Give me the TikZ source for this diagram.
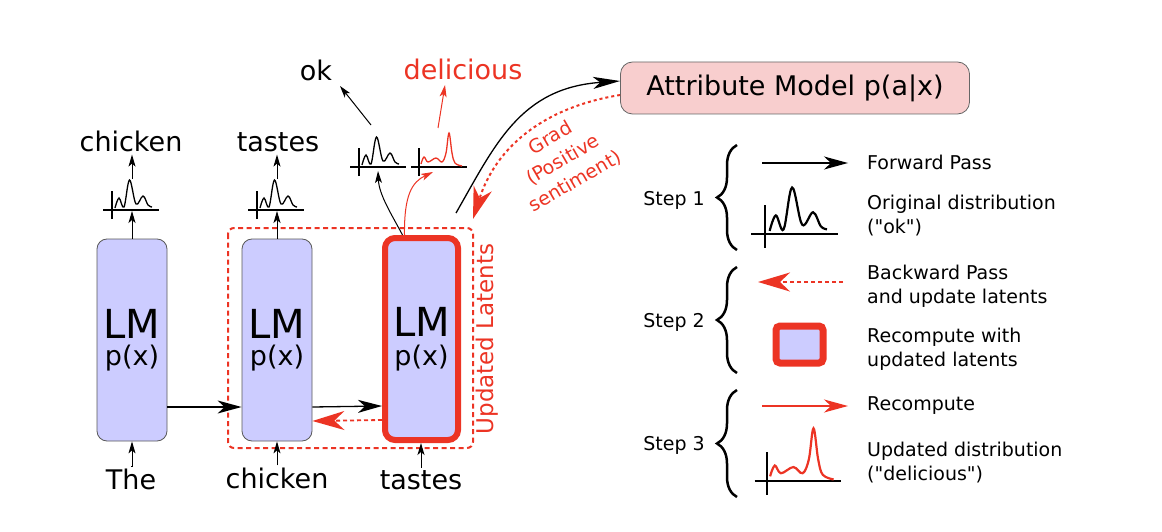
\documentclass[tikz,border=0pt]{standalone}
\usepackage{fontspec}
\setmainfont{DejaVu Sans}[Ligatures=TeXOff]
\usetikzlibrary{arrows.meta,decorations.pathreplacing}
\definecolor{lmfill}{RGB}{204,204,255}
\definecolor{attrfill}{RGB}{248,206,206}
\definecolor{gradred}{RGB}{236,52,36}
\newcommand\fsz[2]{\fontsize{#1}{#2}\selectfont}
\tikzset{
  lmbox/.style={draw=black!65,fill=lmfill,rounded corners=10pt,line width=.8pt,
    minimum width=70pt,minimum height=202pt,align=center,inner sep=0pt},
  hotbox/.style={lmbox,draw=gradred,line width=6pt},
  attrbox/.style={draw=black!60,fill=attrfill,rounded corners=12pt,line width=.8pt,
    minimum width=349pt,minimum height=52pt,font=\fsz{27}{32}},
  word/.style={font=\fsz{27}{32},inner sep=2pt,anchor=base},
  legtext/.style={font=\fsz{19}{24},align=left,anchor=west,inner sep=0pt},
  stepfont/.style={font=\fsz{19}{24},inner sep=0pt},
  smallarr/.style={line width=1pt,-{Stealth[length=12pt,width=7pt,inset=3pt]}},
  fwd/.style={line width=1.3pt,-{Stealth[length=24pt,width=13pt,inset=7pt]}},
  redfwd/.style={fwd,gradred},
  backarr/.style={gradred,line width=1.8pt,dash pattern=on 4pt off 3pt,
    -{Stealth[length=32pt,width=19pt,inset=10pt]}},
  latentbox/.style={gradred,line width=2pt,dash pattern=on 5pt off 3.5pt,rounded corners=6pt},
  legbrace/.style={line width=2.5pt,decorate,decoration={brace,amplitude=20pt}},
  distaxis/.style={line width=1.3pt},
  distcurve/.style={line width=1.3pt},
  legdist/.style={distaxis/.append style={line width=2.2pt},distcurve/.append style={line width=2.2pt}},
  origdist/.pic={
    \draw[distaxis] (-9,0) -- (47,0);
    \draw[distaxis] (0,9) -- (0,-19);
    \draw[distcurve] plot[smooth,tension=.6] coordinates {(3,-2) (7,-12) (12,-3) (17.5,-30) (24,-6) (31,-14) (36,-5) (40,-3)};
  },
  newdist/.pic={
    \draw[distaxis] (-8,0) -- (48,0);
    \draw[distaxis] (0,9) -- (0,-19);
    \draw[distcurve,gradred] plot[smooth,tension=.6] coordinates {(2,-3) (5,-10) (9,-5) (17,-9) (23,-5) (27,-14) (30,-34) (33,-14) (36,-4) (43,-1)};
  }
}
\begin{document}
\begin{tikzpicture}[x=1pt,y=-1pt]
\useasboundingbox (0,0) rectangle (1162,532);
% LM steps
\node[lmbox] (lmThe) at (132,340) {\fsz{40}{40}LM\\[6pt]\fsz{27}{31}p(x)};
\node[lmbox] (lmChicken) at (277,340) {\fsz{40}{40}LM\\[6pt]\fsz{27}{31}p(x)};
\node[hotbox,minimum width=73pt] (lmTastes) at (421.5,339) {\fsz{40}{40}LM\\[8pt]\fsz{27}{31}p(x)};
\draw[latentbox] (228,228) rectangle (473,448);
\node[gradred,rotate=90,font=\fsz{23}{28}] (latLabel) at (487,339) {Updated Latents};
% words
\node[word] (inThe) at (131,489) {The};
\node[word] (inChicken) at (277,488) {chicken};
\node[word] (inTastes) at (421,489) {tastes};
\node[word] (outChicken) at (131,152) {chicken};
\node[word] (outTastes) at (278,152) {tastes};
\node[word] (outOk) at (316,81) {ok};
\node[word,gradred] (outDelicious) at (463,80) {delicious};
% distributions
\pic at (112,210) {origdist};
\pic at (257,210) {origdist};
\pic at (359,167) {origdist};
\pic at (419,167) {newdist};
\coordinate (dThe) at (132,211);
\coordinate (dTheTop) at (132,179);
\coordinate (dChicken) at (277,211);
\coordinate (dChickenTop) at (277,179);
\coordinate (dOk) at (378,171);
\coordinate (dOkTop) at (371,125);
\coordinate (okTip) at (340,86);
\coordinate (dDel) at (433,172);
\coordinate (dDelTop) at (438,128);
\coordinate (delTip) at (445,85);
% inputs and outputs
\draw[smallarr] (inThe.north) -- (inThe.north -| lmThe.south) -- (lmThe.south);
\draw[smallarr] (inChicken.north) -- (lmChicken.south);
\draw[smallarr] (inTastes.north) -- (inTastes.north |- lmTastes.south);
\draw[smallarr] (lmThe.north) -- (dThe);
\draw[smallarr] (dTheTop) -- (dTheTop |- outChicken.south);
\draw[smallarr] (lmChicken.north) -- (dChicken);
\draw[smallarr] (dChickenTop) -- (dChickenTop |- outTastes.south);
\draw[smallarr] ([xshift=-19pt]lmTastes.north) .. controls (392,215) and (379,195) .. (dOk);
\draw[smallarr,gradred] ([xshift=-17pt]lmTastes.north) .. controls (404,195) and (412,182) .. (dDel);
\draw[smallarr] (dOkTop) -- (okTip);
\draw[smallarr,gradred] (dDelTop) -- (delTip);
% latents passed on
\draw[fwd] ([yshift=-67pt]lmThe.east) -- ([yshift=-67pt]lmChicken.west);
\draw[fwd] ([yshift=-67pt]lmChicken.east) -- ([yshift=-67pt]lmTastes.west);
\draw[backarr] ([yshift=-81pt]lmTastes.west) -- ([yshift=-81pt]lmChicken.east);
% attribute model
\node[attrbox] (attr) at (795,88) {Attribute Model p(a|x)};
\coordinate (fwdStart) at (456,213);
\coordinate (gradEnd) at (473,219);
\draw[fwd,-{Stealth[length=27pt,width=12pt,inset=7pt]}] (fwdStart) .. controls (495,145) and (520,88) .. ([yshift=7pt]attr.west);
\draw[backarr,dash pattern=on 3pt off 3pt,line width=2pt] ([yshift=-7pt]attr.west) .. controls (540,108) and (495,150) .. (gradEnd);
\node[gradred,rotate=30,align=center,font=\fsz{19}{25}] (gradLabel) at (563,160) {Grad\\(Positive\\sentiment)};
% legend
\draw[legbrace] (737,250) -- (737,145);
\draw[legbrace] (737,373) -- (737,267);
\draw[legbrace] (737,497) -- (737,390);
\node[stepfont] (step1) at (674,200) {Step 1};
\node[stepfont] (step2) at (674,322) {Step 2};
\node[stepfont] (step3) at (674,445) {Step 3};
\coordinate (fwdA) at (762,163);
\coordinate (fwdB) at (848,163);
\draw[fwd] (fwdA) -- (fwdB);
\node[legtext] (txtFwd) at (867,162) {Forward Pass};
\pic[scale=1.55,legdist] at (765,234) {origdist};
\node[legtext] (txtOrig) at (867,216) {Original distribution\\("ok")};
\coordinate (bwdA) at (843,282);
\coordinate (bwdB) at (758,282);
\draw[backarr] (bwdA) -- (bwdB);
\node[legtext] (txtBwd) at (867,286) {Backward Pass\\and update latents};
\node[hotbox,minimum width=47pt,minimum height=37pt,line width=7pt,rounded corners=4pt] (legBox) at (799.5,344.5) {};
\node[legtext] (txtRecomp) at (867,349) {Recompute with\\updated latents};
\coordinate (recA) at (762,406);
\coordinate (recB) at (848,406);
\draw[redfwd] (recA) -- (recB);
\node[legtext] (txtRec) at (867,406) {Recompute};
\pic[scale=1.55,legdist] at (767,481) {newdist};
\node[legtext] (txtUpd) at (867,463) {Updated distribution\\("delicious")};
\end{tikzpicture}
\end{document}
